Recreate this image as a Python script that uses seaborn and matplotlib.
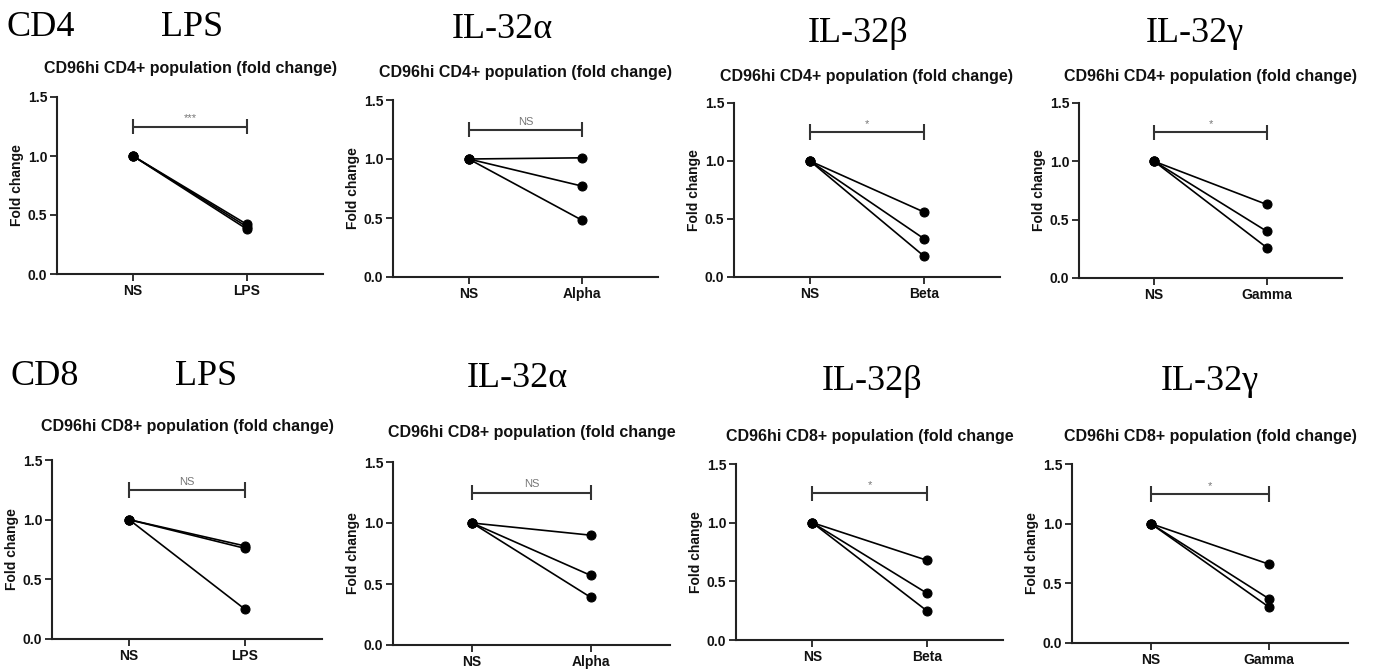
import numpy as np
import pandas as pd
import matplotlib
matplotlib.use("Agg")
import matplotlib.pyplot as plt
import seaborn as sns

# values
treatments = ["LPS", "Alpha", "Beta", "Gamma"]
headers = ["LPS", "IL-32α", "IL-32β", "IL-32γ"]
donors = [1, 2, 3]
ns_values = [1.0, 1.0, 1.0]
cd4_values = [
    [0.42, 0.40, 0.38],
    [1.01, 0.77, 0.48],
    [0.56, 0.33, 0.18],
    [0.63, 0.40, 0.26],
]
cd8_values = [
    [0.78, 0.76, 0.25],
    [0.90, 0.57, 0.39],
    [0.68, 0.40, 0.25],
    [0.66, 0.37, 0.30],
]
cd4_sig = ["***", "NS", "*", "*"]
cd8_sig = ["NS", "NS", "*", "*"]
cd4_titles = ["CD96hi CD4+ population (fold change)"] * 4
cd8_titles = ["CD96hi CD8+ population (fold change)",
              "CD96hi CD8+ population (fold change",
              "CD96hi CD8+ population (fold change",
              "CD96hi CD8+ population (fold change)"]
yticks = [0.0, 0.5, 1.0, 1.5]
sig_y = 1.25

W, H = 1375, 670
sns.set_theme(style="ticks")
plt.rcParams["font.family"] = ["Liberation Sans", "DejaVu Sans"]

fig = plt.figure(figsize=(W / 100, H / 100), dpi=100)

# panel boxes in pixels: left, right, top, bottom, title centre y
row1 = [(57, 323, 97, 274, 68), (393, 658, 100, 277, 72),
        (734, 1000, 103, 277, 77), (1079, 1342, 103, 278, 76)]
row2 = [(52, 322, 460, 639, 427), (393, 670, 462, 645, 433),
        (736, 1003, 464, 640, 436), (1072, 1348, 464, 643, 436)]


def draw(box, treat, vals, sig, title):
    l, r, t, b, ty = box
    ax = fig.add_axes([l / W, 1 - b / H, (r - l) / W, (b - t) / H])
    df = pd.DataFrame({
        "condition": ["NS"] * len(donors) + [treat] * len(donors),
        "donor": donors * 2,
        "value": ns_values + vals,
    })
    sns.lineplot(data=df, x="condition", y="value", units="donor",
                 estimator=None, color="black", marker="o", markersize=6.5,
                 markeredgecolor="black", linewidth=1.2, ax=ax)
    ax.set_xlim(-0.667, 1.667)
    ax.set_ylim(0, 1.5)
    ax.set_yticks(yticks)
    ax.set_yticklabels([f"{v:.1f}" for v in yticks])
    ax.set_xlabel("")
    ax.set_ylabel("Fold change", fontsize=10, fontweight="bold", labelpad=3,
                  color="#111111")
    for lab in ax.get_xticklabels() + ax.get_yticklabels():
        lab.set_fontweight("bold")
        lab.set_fontsize(10)
        lab.set_color("#111111")
    ax.tick_params(length=5, width=1.3, pad=2, color="#222222")
    sns.despine(ax=ax)
    for s in ["left", "bottom"]:
        ax.spines[s].set_linewidth(1.5)
        ax.spines[s].set_color("#222222")
    # significance bracket
    ax.plot([0, 1], [sig_y, sig_y], color="#333333", lw=1.5)
    ax.vlines([0, 1], sig_y - 0.065, sig_y + 0.065, color="#333333", lw=1.5)
    ax.text(0.5, sig_y + 0.025, sig, ha="center", va="bottom",
            fontsize=8, color="#777777")
    fig.text((l + r) / 2 / W, 1 - ty / H, title, ha="center", va="center",
             fontsize=11.5, fontweight="bold", color="#111111")


for i in range(4):
    draw(row1[i], treatments[i], cd4_values[i], cd4_sig[i], cd4_titles[i])
    draw(row2[i], treatments[i], cd8_values[i], cd8_sig[i], cd8_titles[i])

serif = ["Liberation Serif", "DejaVu Serif"]
fig.text(7 / W, 1 - 36 / H, "CD4", ha="left", va="baseline", fontsize=26,
         family=serif, color="black")
fig.text(10 / W, 1 - 385 / H, "CD8", ha="left", va="baseline", fontsize=26,
         family=serif, color="black")
for name, cx, by in zip(headers, [192, 502, 858, 1195], [36, 38, 42, 42]):
    fig.text(cx / W, 1 - by / H, name, ha="center", va="baseline",
             fontsize=26, family=serif, color="black")
for name, cx, by in zip(headers, [206, 517, 872, 1210], [385, 387, 390, 390]):
    fig.text(cx / W, 1 - by / H, name, ha="center", va="baseline",
             fontsize=26, family=serif, color="black")

fig.savefig("out.png", dpi=100, facecolor="white")
